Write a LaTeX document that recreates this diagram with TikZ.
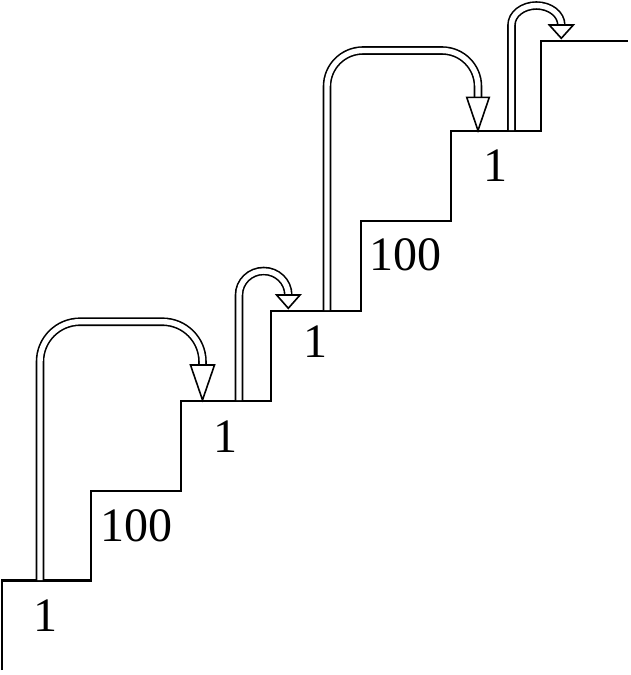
\documentclass[tikz,border=0pt]{standalone}
\usepackage{fontspec}
\setmainfont{Liberation Serif}
\begin{document}
\begin{tikzpicture}[x=1pt,y=-1pt,
  stair/.style={line width=2.2pt,line join=miter},
  dbl/.style={draw=black,line width=1.6pt,double=white,double distance=5.4pt},
  head/.style={draw=black,fill=white,line width=1.6pt,line join=miter},
  lbl/.style={inner sep=0pt,font=\fontsize{48}{48}\selectfont}]
\useasboundingbox (0,0) rectangle (630,675);
% staircase
\draw[stair] (2,670) -- (2,580.5) -- (91,580.5) -- (91,490.8) -- (181,490.8) -- (181,400.8)
  -- (271,400.8) -- (271,310.8) -- (361,310.8) -- (361,221) -- (451,221) -- (451,131)
  -- (541,131) -- (541,41) -- (628,41);
% big arrow 1
\draw[dbl,rounded corners=40pt] (40,580) -- (40,321.7) -- (202.5,321.7) -- (202.5,366);
\draw[head] (190.5,365) -- (214.5,365) -- (202.5,400) -- cycle;
% small arrow 1
\draw[dbl] (239,400) -- (239,295) arc[start angle=180,end angle=360,x radius=24.65,y radius=24] -- (288.3,296);
\draw[head] (276.6,295) -- (300,295) -- (288.3,308.3) -- cycle;
% big arrow 2
\draw[dbl,rounded corners=36pt] (327,310) -- (327,50.5) -- (478,50.5) -- (478,98);
\draw[head] (466.7,97.3) -- (489.3,97.3) -- (478,130.5) -- cycle;
% small arrow 2
\draw[dbl] (511.5,130) -- (511.5,25) arc[start angle=180,end angle=360,x radius=24.9,y radius=19.5] -- (561.3,26);
\draw[head] (549.3,25) -- (573.3,25) -- (561.3,38.3) -- cycle;
% labels
\node[lbl] (l1) at (45.5,616) {1};
\node[lbl] (l2) at (136.7,526) {100};
\node[lbl] (l3) at (225,436.5) {1};
\node[lbl] (l4) at (315,342) {1};
\node[lbl] (l5) at (405,255) {100};
\node[lbl] (l6) at (495.3,166) {1};
\end{tikzpicture}
\end{document}
